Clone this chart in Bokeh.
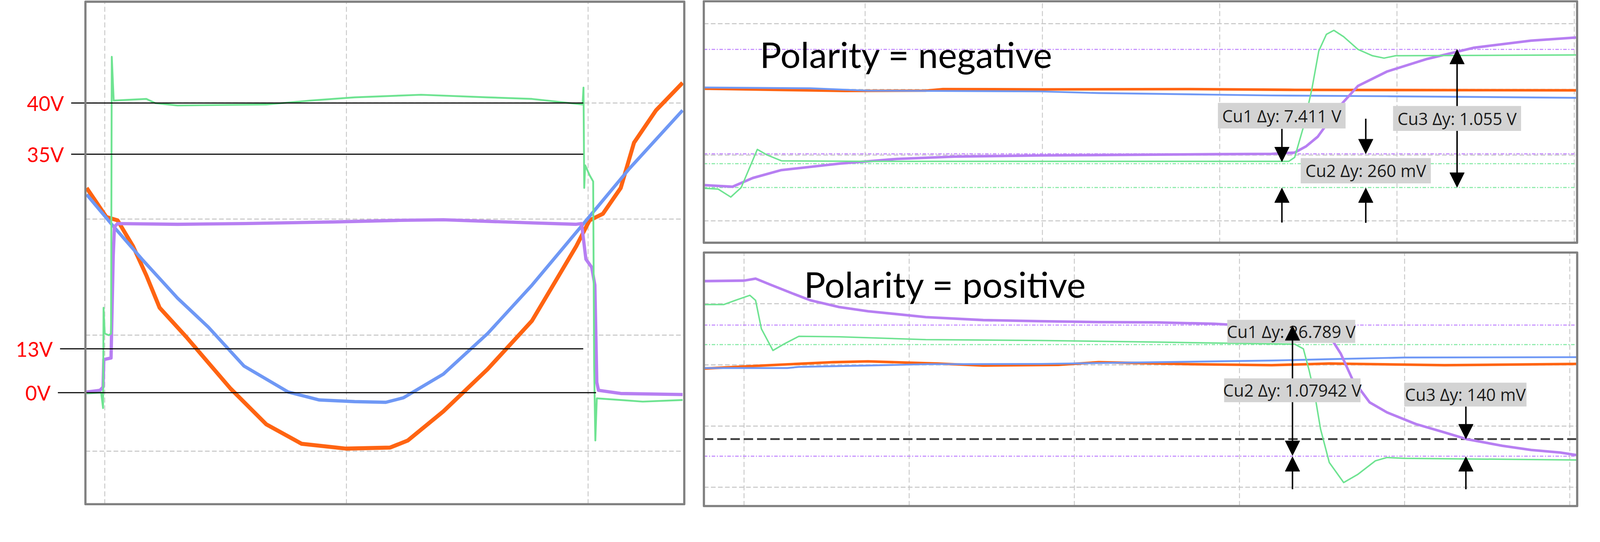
from bokeh.plotting import figure
from bokeh.layouts import row, column
from bokeh.models import Range1d, Arrow, NormalHead, ColumnDataSource
from bokeh.core.properties import value
from bokeh.embed import file_html
from bokeh.resources import INLINE

# scope colours
GREEN = "#6ee391"
PURPLE = "#b77ff2"
BLUE = "#6f98f5"
ORANGE = "#ff6412"
GRID = "#c9c9c9"

# ---- left: one full switching period, values in scope divisions ----
per_green_t = [-0.075, -0.015, -0.007, -0.005, 0.0, 0.017, 0.026, 0.029, 0.037, 0.172, 0.209,
               0.301, 0.668, 0.851, 1.034, 1.309, 1.584, 1.768, 1.952, 1.977, 1.981, 1.984,
               1.988, 2.006, 2.021, 2.025, 2.030, 2.036, 2.135, 2.226, 2.391]
per_green_v = [0.497, 0.505, 0.371, 1.236, 1.013, 0.999, 1.013, 3.398, 3.021, 3.035, 2.999,
               2.979, 2.987, 3.021, 3.049, 3.071, 3.049, 3.035, 2.993, 2.987, 3.133, 2.268,
               2.463, 2.379, 2.324, 0.734, 0.092, 0.455, 0.441, 0.427, 0.441]
per_purple_t = [-0.075, -0.020, -0.007, -0.004, 0.026, 0.035, 0.040, 0.053, 0.301, 0.576, 0.943,
                1.218, 1.401, 1.768, 1.951, 1.973, 1.991, 2.015, 2.028, 2.036, 2.043, 2.135, 2.391]
per_purple_v = [0.510, 0.524, 0.552, 0.789, 0.803, 1.682, 1.933, 1.961, 1.955, 1.961, 1.975,
                1.989, 1.994, 1.967, 1.955, 1.961, 1.654, 1.584, 1.431, 0.594, 0.524, 0.497, 0.488]
per_blue_t = [-0.075, 0.026, 0.154, 0.301, 0.429, 0.576, 0.759, 0.888, 1.034, 1.163, 1.236,
              1.401, 1.584, 1.768, 1.970, 2.171, 2.391]
per_blue_v = [2.212, 1.961, 1.654, 1.319, 1.068, 0.734, 0.510, 0.441, 0.427, 0.421, 0.460,
              0.664, 1.013, 1.431, 1.933, 2.435, 2.937]
per_orange_t = [-0.075, 0.007, 0.053, 0.117, 0.172, 0.227, 0.337, 0.521, 0.668, 0.814, 0.998,
                1.181, 1.254, 1.401, 1.584, 1.768, 1.951, 2.006, 2.061, 2.135, 2.190, 2.281, 2.391]
per_orange_v = [2.268, 2.017, 1.989, 1.766, 1.515, 1.236, 0.985, 0.538, 0.232, 0.064, 0.022,
                0.031, 0.092, 0.343, 0.706, 1.124, 1.766, 1.989, 2.045, 2.268, 2.658, 2.937, 3.174]

level_labels = ["40V", "35V", "13V", "0V"]
level_v = [3.0, 2.559, 0.882, 0.504]
level_start = [-0.139, -0.139, -0.185, -0.194]
level_end = [1.980, 1.980, 1.980, 2.033]

# ---- top right: polarity = negative ----
neg_green_t = [-0.905, -0.829, -0.758, -0.699, -0.608, -0.553, -0.472, 0.016, 2.390, 2.423, 2.472,
               2.520, 2.559, 2.602, 2.644, 2.699, 2.780, 2.862, 2.927, 2.992, 4.010]
neg_green_v = [0.495, 0.483, 0.362, 0.507, 1.087, 1.002, 0.913, 0.906, 0.906, 0.966, 1.425,
               2.005, 2.585, 2.838, 2.899, 2.802, 2.609, 2.512, 2.476, 2.512, 2.524]
neg_purple_t = [-0.905, -0.748, -0.634, -0.472, -0.146, 0.179, 0.504, 0.992, 1.967, 2.293, 2.423,
                2.488, 2.553, 2.618, 2.683, 2.780, 2.943, 3.171, 3.431, 3.756, 4.010]
neg_purple_v = [0.543, 0.519, 0.652, 0.773, 0.870, 0.942, 0.978, 0.995, 1.014, 1.019, 1.039,
                1.135, 1.280, 1.522, 1.763, 2.053, 2.271, 2.464, 2.633, 2.742, 2.790]
neg_blue_t = [-0.905, -0.309, 0.016, 0.992, 1.317, 1.967, 2.293, 2.943, 4.010]
neg_blue_v = [2.029, 2.017, 1.981, 1.969, 1.944, 1.920, 1.908, 1.896, 1.872]
neg_orange_t = [-0.905, -0.504, -0.114, 0.341, 0.439, 0.992, 1.805, 2.423, 4.010]
neg_orange_v = [2.010, 1.993, 1.976, 1.981, 2.005, 2.000, 2.005, 1.993, 1.986]

neg_cursor_purple = [2.609, 1.019]
neg_cursor_green = [0.870, 0.507]
neg_readouts = ["Cu1 \u0394y: 7.411 V", "Cu2 \u0394y: 260 mV", "Cu3 \u0394y: 1.055 V"]
neg_box_left = [1.990, 2.457, 2.978]
neg_box_right = [2.710, 3.191, 3.700]
neg_box_bottom = [1.405, 0.571, 1.369]
neg_box_top = [1.795, 0.955, 1.747]
neg_arrow_x = [2.351, 2.351, 2.824, 2.824, 3.339, 3.339]
neg_arrow_from = [1.400, -0.026, 1.554, -0.030, 1.747, 1.369]
neg_arrow_to = [0.899, 0.501, 1.020, 0.501, 2.609, 0.510]

# ---- bottom right: polarity = positive ----
pos_green_t = [-0.240, -0.122, -0.052, 0.035, 0.070, 0.105, 0.175, 0.244, 0.332, 0.576, 1.100,
               1.798, 2.497, 3.195, 3.334, 3.387, 3.422, 3.457, 3.491, 3.544, 3.631, 3.718,
               3.823, 3.893, 3.998, 5.040]
pos_green_v = [2.986, 2.986, 3.055, 3.137, 3.055, 2.590, 2.235, 2.344, 2.467, 2.459, 2.413,
               2.399, 2.372, 2.344, 2.339, 2.262, 1.907, 1.497, 0.951, 0.404, 0.077, 0.213,
               0.432, 0.486, 0.473, 0.445]
pos_purple_t = [-0.240, 0.0, 0.070, 0.157, 0.297, 0.402, 0.576, 0.751, 1.100, 1.449, 1.798,
                2.147, 2.497, 2.846, 3.020, 3.334, 3.474, 3.544, 3.614, 3.683, 3.788, 3.893,
                4.068, 4.242, 4.375, 4.591, 4.766, 4.941, 5.040]
pos_purple_v = [3.369, 3.377, 3.410, 3.314, 3.164, 3.055, 2.945, 2.877, 2.781, 2.732, 2.713,
                2.699, 2.694, 2.672, 2.645, 2.650, 2.617, 2.481, 2.180, 1.770, 1.388, 1.224,
                1.033, 0.896, 0.787, 0.678, 0.609, 0.568, 0.527]
pos_blue_t = [-0.240, 0.262, 0.332, 0.751, 1.100, 1.798, 2.497, 3.195, 3.544, 3.998, 5.040]
pos_blue_v = [1.948, 1.948, 1.967, 1.989, 2.011, 2.016, 2.044, 2.071, 2.093, 2.120, 2.126]
pos_orange_t = [-0.240, 0.157, 0.541, 0.751, 1.170, 1.449, 1.903, 2.147, 2.706, 3.195, 3.544,
                4.242, 5.040]
pos_orange_v = [1.940, 1.995, 2.044, 2.057, 2.022, 1.989, 2.000, 2.044, 2.011, 1.995, 2.022,
                1.995, 2.016]

pos_cursor_purple = [2.650, 0.508]
pos_cursor_green = [2.331]
pos_ref_level = [0.787]
pos_readouts = ["Cu1 \u0394y: 26.789 V", "Cu2 \u0394y: 1.07942 V", "Cu3 \u0394y: 140 mV"]
pos_box_left = [2.926, 2.907, 3.998]
pos_box_right = [3.701, 3.733, 4.738]
pos_box_bottom = [2.359, 1.390, 1.320]
pos_box_top = [2.736, 1.779, 1.710]
pos_arrow_x = [3.321, 3.321, 3.321, 4.371, 4.371]
pos_arrow_from = [1.779, 1.390, -0.033, 1.318, -0.032]
pos_arrow_to = [2.640, 0.519, 0.500, 0.790, 0.500]

# whole picture is drawn at this scale so that it fits the captured area
S = 4092 / 4372
W_TOTAL, H_TOTAL = 4092, round(1387 * S)
W_LEFT = round(1897 * S)
W_RIGHT = W_TOTAL - W_LEFT
H_TOP = round(676 * S)
H_BOT = H_TOTAL - H_TOP


def sz(v):
    return v * S


def dash(*parts):
    return " ".join(str(max(1, round(d * S))) for d in parts)


def panel(width, height, ref_left, ref_top, x0, sx, y0, sy):
    # picture pixel (unscaled) = x0 + sx * div ; y pixel = y0 - sy * div
    rw, rh = width / S, height / S
    p = figure(width=width, height=height, output_backend="svg", toolbar_location=None,
               x_range=Range1d((ref_left - x0) / sx, (ref_left + rw - x0) / sx),
               y_range=Range1d((y0 - ref_top - rh) / sy, (y0 - ref_top) / sy),
               x_axis_location=None, y_axis_location=None, min_border=0)
    p.grid.visible = False
    p.outline_line_color = None
    p.background_fill_color = "white"
    p.border_fill_color = "white"
    return p


def scope_grid(p, box, vdivs, hdivs):
    l, r, b, t = box
    p.segment(x0=vdivs, x1=vdivs, y0=[b] * len(vdivs), y1=[t] * len(vdivs),
              line_color=GRID, line_width=sz(2.5), line_dash=dash(14, 8))
    p.segment(x0=[l] * len(hdivs), x1=[r] * len(hdivs), y0=hdivs, y1=hdivs,
              line_color=GRID, line_width=sz(3), line_dash=dash(13, 6))


def cursors(p, box, levels, color):
    l, r, b, t = box
    p.segment(x0=[l] * len(levels), x1=[r] * len(levels), y0=levels, y1=levels,
              line_color=color, line_width=sz(3), line_dash=dash(10, 4, 3, 4))


def frame_box(p, box):
    l, r, b, t = box
    p.quad(left=[l], right=[r], bottom=[b], top=[t], fill_color=None,
           line_color="#808080", line_width=sz(6), line_join="round")


def traces(p, series, widths):
    for (t, v, c), w in zip(series, widths):
        p.line(t, v, line_color=c, line_width=sz(w), line_join="round")


def readouts(p, texts, bl, br, bb, bt, ax, afrom, ato):
    p.quad(left=bl, right=br, bottom=bb, top=bt, fill_color="#d3d3d3", line_color=None)
    cx = [(a + b) / 2 for a, b in zip(bl, br)]
    cy = [(a + b) / 2 for a, b in zip(bb, bt)]
    p.text(x=cx, y=cy, text=texts, text_align="center", text_baseline="middle",
           text_font=value("Open Sans"), text_font_size=value(f"{sz(46):.1f}px"),
           text_color="#1c1c1c")
    src = ColumnDataSource(dict(x=ax, y0=afrom, y1=ato))
    p.add_layout(Arrow(x_start="x", y_start="y0", x_end="x", y_end="y1", source=src,
                       line_color="black", line_width=sz(4),
                       end=NormalHead(size=sz(40), fill_color="black", line_color="black")))


def title(p, x, y, text):
    p.text(x=[x], y=[y], text=[text], text_baseline="middle", text_align="left",
           text_font=value("Lato"), text_font_size=value(f"{sz(98):.1f}px"), text_color="black")


# ---------------- left panel ----------------
pl = panel(W_LEFT, H_TOTAL, 0, 0, 286, 661, 1233, 317.3)
lbox = (-0.080, 2.398, -0.457, 3.873)
scope_grid(pl, lbox, [0, 1, 2], [0, 1, 2, 3])
traces(pl, [(per_orange_t, per_orange_v, ORANGE), (per_blue_t, per_blue_v, BLUE),
            (per_purple_t, per_purple_v, PURPLE), (per_green_t, per_green_v, GREEN)],
       [11, 9, 9, 5])
pl.segment(x0=level_start, x1=level_end, y0=level_v, y1=level_v, line_color="black",
           line_width=sz(3))
pl.text(x=[s - 0.03 for s in level_start], y=level_v, text=level_labels,
        text_align="right", text_baseline="middle", text_color="#ff0000",
        text_font=value("Lato"), text_font_size=value(f"{sz(55):.1f}px"))
frame_box(pl, lbox)

# ---------------- top right: negative ----------------
pn = panel(W_RIGHT, H_TOP, 1897, 0, 2365.2, 484.9, 603.3, 179.7)
nbox = (-0.910, 4.016, -0.333, 3.341)
scope_grid(pn, nbox, [0, 1, 2, 3, 4], [0, 1, 2, 3])
cursors(pn, nbox, neg_cursor_purple, "#c48cff")
cursors(pn, nbox, neg_cursor_green, "#86eaa6")
traces(pn, [(neg_orange_t, neg_orange_v, ORANGE), (neg_blue_t, neg_blue_v, BLUE),
            (neg_purple_t, neg_purple_v, PURPLE), (neg_green_t, neg_green_v, GREEN)],
       [7, 5, 7, 4])
title(pn, -0.594, 2.536, "Polarity = negative")
readouts(pn, neg_readouts, neg_box_left, neg_box_right, neg_box_bottom, neg_box_top,
         neg_arrow_x, neg_arrow_from, neg_arrow_to)
frame_box(pn, nbox)

# ---------------- bottom right: positive ----------------
pp = panel(W_RIGHT, H_BOT, 1897, H_TOP / S, 2034.0, 451.7, 1331.7, 167.3)
pbox = (-0.243, 5.045, -0.307, 3.836)
scope_grid(pp, pbox, [0, 1, 2, 3, 4, 5], [0, 1, 2, 3])
cursors(pp, pbox, pos_cursor_purple, "#c48cff")
cursors(pp, pbox, pos_cursor_green, "#86eaa6")
pp.segment(x0=[pbox[0]], x1=[pbox[1]], y0=pos_ref_level, y1=pos_ref_level,
           line_color="#404040", line_width=sz(5), line_dash=dash(26, 11))
traces(pp, [(pos_orange_t, pos_orange_v, ORANGE), (pos_blue_t, pos_blue_v, BLUE),
            (pos_purple_t, pos_purple_v, PURPLE), (pos_green_t, pos_green_v, GREEN)],
       [7, 5, 7, 4])
title(pp, 0.363, 3.322, "Polarity = positive")
readouts(pp, pos_readouts, pos_box_left, pos_box_right, pos_box_bottom, pos_box_top,
         pos_arrow_x, pos_arrow_from, pos_arrow_to)
frame_box(pp, pbox)

layout = row(pl, column(pn, pp))
open("out.html", "w").write(file_html(layout, INLINE))
